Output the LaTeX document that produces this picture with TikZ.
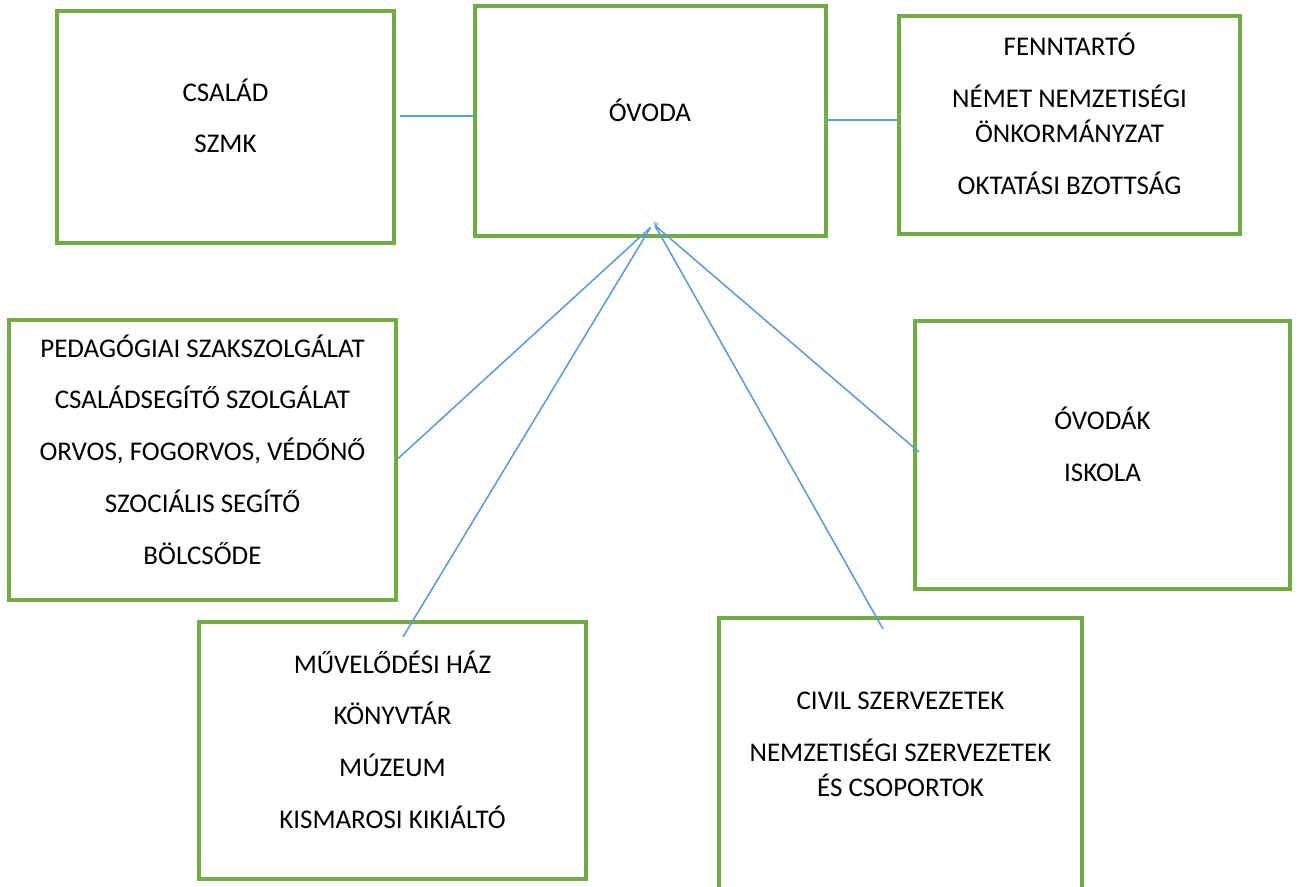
\documentclass[tikz,border=0pt]{standalone}
\usepackage{fontspec}
\setmainfont{Carlito}
\definecolor{boxgreen}{HTML}{70AD47}
\definecolor{linkblue}{HTML}{5B9BD5}
\begin{document}
\begin{tikzpicture}[x=1pt,y=-1pt,
  box/.style={draw=boxgreen, line width=3.2pt, inner sep=0pt, fill=none},
  lbl/.style={anchor=base, inner sep=0pt, font=\fontsize{27}{27}\selectfont},
  link/.style={draw=linkblue, line width=1.5pt}]
\clip (0,0) rectangle (1298,886);
\fill[white] (0,0) rectangle (1298,886);
% boxes
\node[box, minimum width=337pt, minimum height=232pt] (csalad) at (225.5,127) {};
\node[box, minimum width=351pt, minimum height=230pt] (ovoda) at (650.5,121) {};
\node[box, minimum width=341pt, minimum height=218pt] (fenn) at (1069.5,125) {};
\node[box, minimum width=387pt, minimum height=280pt] (ped) at (202.5,460) {};
\node[box, minimum width=375pt, minimum height=268pt] (ovodak) at (1102.5,455) {};
\node[box, minimum width=387pt, minimum height=257pt] (muv) at (392.5,750.5) {};
\node[box, minimum width=363pt, minimum height=302pt] (civil) at (900.5,769) {};
% labels
\node[lbl] (t1) at (225.5,101) {CSALÁD};
\node[lbl] (t2) at (225.5,152) {SZMK};
\node[lbl] (t3) at (650,121) {ÓVODA};
\node[lbl] (t4) at (1069.5,55) {FENNTARTÓ};
\node[lbl] (t5) at (1069.5,107) {NÉMET NEMZETISÉGI};
\node[lbl] (t6) at (1069.5,142) {ÖNKORMÁNYZAT};
\node[lbl] (t7) at (1069.5,194) {OKTATÁSI BZOTTSÁG};
\node[lbl] (t8) at (202.5,357) {PEDAGÓGIAI SZAKSZOLGÁLAT};
\node[lbl] (t9) at (202.5,408) {CSALÁDSEGÍTŐ SZOLGÁLAT};
\node[lbl] (t10) at (202.5,460) {ORVOS, FOGORVOS, VÉDŐNŐ};
\node[lbl] (t11) at (202.5,512) {SZOCIÁLIS SEGÍTŐ};
\node[lbl] (t12) at (202.5,564) {BÖLCSŐDE};
\node[lbl] (t13) at (1102.5,429) {ÓVODÁK};
\node[lbl] (t14) at (1102.5,481) {ISKOLA};
\node[lbl] (t15) at (392.5,673) {MŰVELŐDÉSI HÁZ};
\node[lbl] (t16) at (392.5,724) {KÖNYVTÁR};
\node[lbl] (t17) at (392.5,776) {MÚZEUM};
\node[lbl] (t18) at (392.5,828) {KISMAROSI KIKIÁLTÓ};
\node[lbl] (t19) at (900.5,709) {CIVIL SZERVEZETEK};
\node[lbl] (t20) at (900.5,761) {NEMZETISÉGI SZERVEZETEK};
\node[lbl] (t21) at (900.5,796) {ÉS CSOPORTOK};
% connector end points
\coordinate (csend) at (400,116);
\coordinate (fnend) at (826,120);
\coordinate (hubL) at (650.5,227.5);
\coordinate (hubR) at (655,225.5);
\coordinate (muvend) at (403,637);
\coordinate (civend) at (883,629);
\coordinate (ovkend) at (919,452);
% connectors
\draw[link] (csend) -- (ovoda.west |- csend);
\draw[link] (fnend) -- (fenn.west |- fnend);
\draw[link] (hubL) -- (ped.east |- 0,459);
\draw[link] (hubL) -- (muvend);
\draw[link] (hubR) -- (civend);
\draw[link] (hubR) -- (ovkend);
\draw[link, line width=1.1pt] (654.5,222) -- (656,228) -- (657.5,222.5);
\end{tikzpicture}
\end{document}
